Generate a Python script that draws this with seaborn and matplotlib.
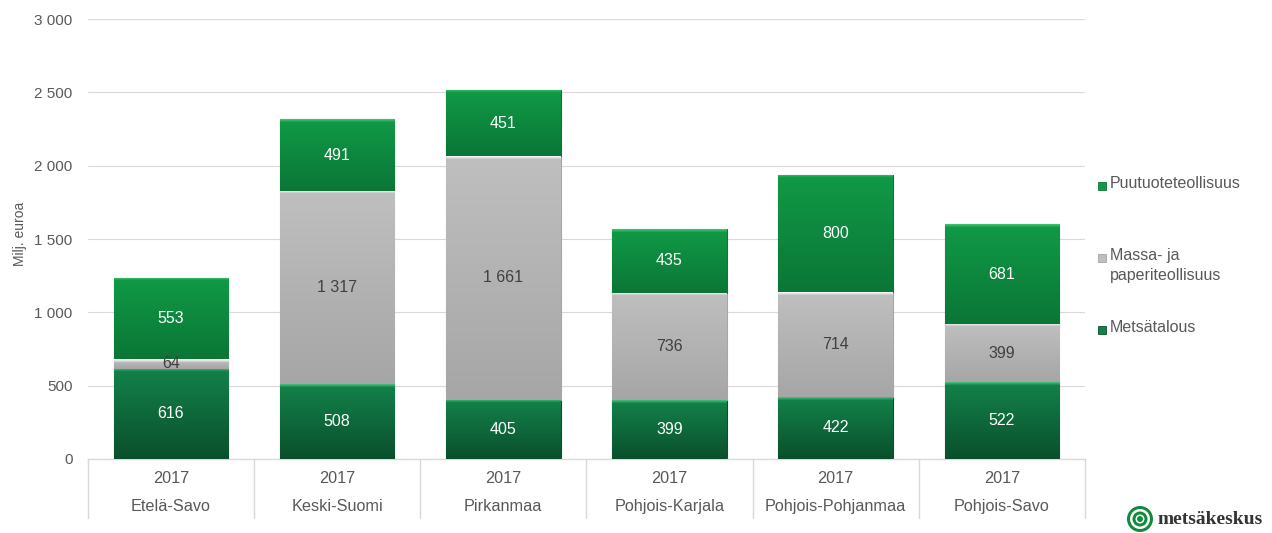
import numpy as np
import pandas as pd
import matplotlib
matplotlib.use("Agg")
import matplotlib.pyplot as plt
import matplotlib.transforms as mtransforms
from matplotlib.colors import to_rgb
from matplotlib.patches import Ellipse, Rectangle
import seaborn as sns

# data (Milj. euroa, 2017)
regions = ["Etelä-Savo", "Keski-Suomi", "Pirkanmaa", "Pohjois-Karjala",
           "Pohjois-Pohjanmaa", "Pohjois-Savo"]
years = ["2017", "2017", "2017", "2017", "2017", "2017"]
metsatalous = [616, 508, 405, 399, 422, 522]
massa_paperi = [64, 1317, 1661, 736, 714, 399]
puutuote = [553, 491, 451, 435, 800, 681]

series_labels = ["Metsätalous", "Massa- ja\npaperiteollisuus", "Puutuoteteollisuus"]
y_ticks = [0, 500, 1000, 1500, 2000, 2500, 3000]

# gradient colours (bottom, top, bevel) and label colours per series
grad = {
    "Metsätalous": ("#0a4f2c", "#13824a", "#49c07f"),
    "Massa- ja\npaperiteollisuus": ("#a6a6a6", "#bfbfbf", "#ffffff"),
    "Puutuoteteollisuus": ("#0b7637", "#109a46", "#45c57a"),
}
text_col = {
    "Metsätalous": "white",
    "Massa- ja\npaperiteollisuus": "#404040",
    "Puutuoteteollisuus": "white",
}

sns.set_style("white")
plt.rcParams["font.family"] = ["Liberation Sans", "DejaVu Sans"]
grey = "#595959"

df = pd.DataFrame({"region": regions, "met": metsatalous,
                   "massa": massa_paperi, "puu": puutuote})

fig = plt.figure(figsize=(12.72, 5.33), dpi=100)
ax = fig.add_axes([0.069, 0.139, 0.784, 0.825])

px_per_unit = 440 / 3000.0


def fmt(v):
    return f"{v:,}".replace(",", " ")


def gradient_fill(patch, c_bot, c_top, c_bev):
    x0, y0 = patch.get_x(), patch.get_y()
    w, h = patch.get_width(), patch.get_height()
    n = max(int(round(h * px_per_unit)) * 2, 6)
    t = np.linspace(1, 0, n)[:, None]  # top row first
    cb, ct, cv = (np.array(to_rgb(c)) for c in (c_bot, c_top, c_bev))
    img = cb + (ct - cb) * t
    # bevel strip at the top of each segment
    k = min(6, n)
    for j in range(k):
        a = 0.95 - j * 0.15
        img[j] = img[j] * (1 - a) + cv * a
    img = np.repeat(img[:, None, :], 2, axis=1)
    im = ax.imshow(img, extent=[x0, x0 + w, y0, y0 + h], origin="upper",
                   aspect="auto", interpolation="bilinear", zorder=3)
    im.set_clip_path(patch)


bottom = np.zeros(len(regions))
for col, label in zip(["met", "massa", "puu"], series_labels):
    c_bot, c_top, c_bev = grad[label]
    n_before = len(ax.patches)
    sns.barplot(data=df, x="region", y=col, order=regions, bottom=bottom,
                color=c_top, saturation=1, width=0.69, ax=ax,
                edgecolor=c_bot, linewidth=0.8, zorder=2)
    for i, p in enumerate(ax.patches[n_before:]):
        gradient_fill(p, c_bot, c_top, c_bev)
        v = df[col].iloc[i]
        ax.text(i, bottom[i] + v / 2, fmt(v), ha="center", va="center",
                color=text_col[label], fontsize=11.5, zorder=5)
    bottom = bottom + df[col].to_numpy()

ax.set_xlim(-0.5, len(regions) - 0.5)
ax.set_ylim(0, 3000)
ax.set_yticks(y_ticks)
ax.set_yticklabels([fmt(v) for v in y_ticks], color=grey, fontsize=11)
ax.yaxis.grid(True, color="#d9d9d9", linewidth=0.8, zorder=0)
ax.set_axisbelow(True)
ax.tick_params(axis="y", length=0, pad=11)

ax.set_xticks(range(len(regions)))
ax.set_xticklabels([f"{y}\n{r}" for y, r in zip(years, regions)],
                   color=grey, fontsize=11.7, linespacing=2.05)
ax.tick_params(axis="x", length=0, pad=9)
ax.set_xlabel("")
ax.set_ylabel("Milj. euroa", color=grey, fontsize=10)
ax.yaxis.set_label_coords(-0.061, 0.511)

for s in ["top", "right", "left"]:
    ax.spines[s].set_visible(False)
ax.spines["bottom"].set_color("#d9d9d9")
ax.spines["bottom"].set_linewidth(1.0)

# category separators below the axis
trans = mtransforms.blended_transform_factory(ax.transData, ax.transAxes)
for xb in np.arange(-0.5, len(regions), 1.0):
    ax.plot([xb, xb], [0, -0.134], transform=trans, color="#d9d9d9",
            linewidth=1.0, clip_on=False)

# legend drawn as small squares with text on the right
leg_items = [("Puutuoteteollisuus", 186), ("Massa- ja\npaperiteollisuus", 258),
             ("Metsätalous", 330)]
H, W = 533.0, 1272.0
for label, ypx in leg_items:
    c_bot, c_top, c_bev = grad[label]
    sq = Rectangle((1098 / W, 1 - (ypx + 4) / H), 8 / W, 8 / H,
                   transform=fig.transFigure, facecolor=c_top,
                   edgecolor=c_bot, linewidth=0.6)
    fig.patches.append(sq)
    fig.text(1110 / W, 1 - (ypx - 10) / H, label, color=grey, fontsize=11.5,
             va="top", ha="left", linespacing=1.45)

# logo
cx, cy = 1140 / W, 1 - 519 / H
for r, fc in [(13, "#0f8a3e"), (10, "white"), (7.5, "#0f8a3e"), (4.5, "white"),
              (3, "#0f8a3e")]:
    fig.patches.append(Ellipse((cx, cy), 2 * r / W, 2 * r / H,
                               transform=fig.transFigure, facecolor=fc,
                               edgecolor="none"))
fig.text(1157 / W, cy, "metsäkeskus", color="#333333", fontsize=14,
         fontweight="bold", family=["Liberation Serif", "DejaVu Serif"],
         va="center", ha="left")

fig.savefig("out.png", dpi=100)
